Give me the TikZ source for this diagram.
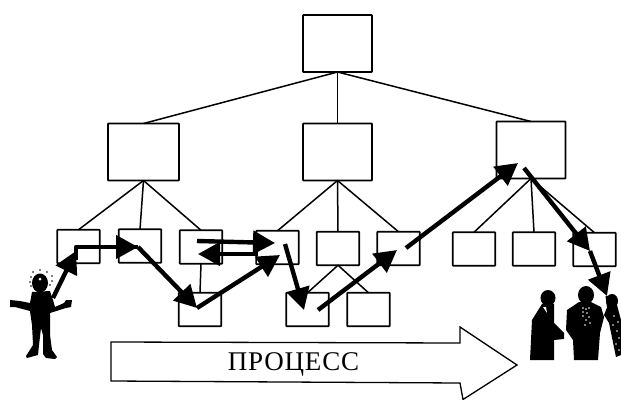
\documentclass[tikz,border=0pt]{standalone}
\usepackage{fontspec}
\setmainfont{Liberation Serif}
\usetikzlibrary{arrows.meta}
\tikzset{
  orgbox/.style={draw=black,line width=1.7pt,fill=white,inner sep=0pt,outer sep=0pt,rounded corners=0.6pt},
  bigbox/.style={orgbox,minimum width=69pt,minimum height=57pt},
  smallbox/.style={orgbox,minimum width=42.5pt,minimum height=33.5pt},
  link/.style={draw=black,line width=1.5pt},
  flow/.style={draw=black,line width=4.4pt,-{Triangle[length=22pt,width=23pt]}},
  flowplain/.style={draw=black,line width=4.4pt,line join=round},
  silh/.style={fill=black,draw=none},
  speck/.style={fill=white,draw=none}
}
\begin{document}
\begin{tikzpicture}[x=1pt,y=-1pt]
\useasboundingbox (0,0) rectangle (621,399);
% boxes
\node[bigbox] (top) at (337.5,43.5) {};
\node[bigbox,minimum width=71pt] (m1) at (143.5,152) {};
\node[bigbox] (m2) at (337.5,152) {};
\node[bigbox] (m3) at (531,150) {};
\node[smallbox] (l1) at (78.5,246.5) {};
\node[smallbox] (l2) at (140,246) {};
\node[smallbox] (l3) at (201,247) {};
\node[smallbox] (l4) at (277.5,247.5) {};
\node[smallbox] (l5) at (338,248.5) {};
\node[smallbox] (l6) at (398.5,248.5) {};
\node[smallbox] (l7) at (474,249) {};
\node[smallbox] (l8) at (534,249) {};
\node[smallbox] (l9) at (594.5,249.5) {};
\node[smallbox] (b1) at (200,309.5) {};
\node[smallbox] (b2) at (307.5,309.5) {};
\node[smallbox] (b3) at (368.5,309.5) {};
% tree links
\draw[link] (top.south) -- (m1.north);
\draw[link] (top.south) -- (m2.north);
\draw[link] (top.south) -- (m3.north);
\draw[link] (m1.south) -- (l1.north);
\draw[link] (m1.south) -- (l2.north);
\draw[link] (m1.south) -- (l3.north);
\draw[link] (m2.south) -- (l4.north);
\draw[link] (m2.south) -- (l5.north);
\draw[link] (m2.south) -- (l6.north);
\draw[link] (m3.south) -- (l7.north);
\draw[link] (m3.south) -- (l8.north);
\draw[link] (m3.south) -- (l9.north);
\draw[link] (l3.south) -- (b1.north);
\draw[link] (l5.south) -- (b2.north);
\draw[link] (l5.south) -- (b3.north);
% process arrow
\draw[line width=1.3pt,line join=miter,fill=white] (111,342) -- (460,343) -- (460,327) -- (517,365) -- (463,399.5) -- (460,383) -- (111,381) -- cycle;
\node[font=\fontsize{27}{27}\addfontfeature{LetterSpace=3}\selectfont,inner sep=0pt] (proc) at (293.5,364) {ПРОЦЕСС};
% left figure
\fill[silh] (40,283) ellipse (8pt and 9.5pt);
\fill[silh] (32,292) -- (50,291) -- (53,300) -- (55,307) -- (64,303) -- (66,300) -- (72,300) -- (71,307) -- (66,308) -- (50,313) -- (50,335) -- (52,350) -- (57,357) -- (55,359) -- (46,358) -- (43,354) -- (43,335) -- (41,328) -- (39,345) -- (38,355) -- (27,358) -- (26,356) -- (33,345) -- (32,325) -- (30,311) -- (15,307) -- (10,307) -- (10,300) -- (20,301) -- (30,303) -- cycle;
\fill[speck] (40,279) circle (1.5pt);
\foreach \dx/\dy in {33/272,40/270,47/272,31/277,52/276,30/282,52/281,31/286,50/285}{
  \fill[black] (\dx,\dy) circle (0.9pt);
}
% right group
\fill[silh] (548,298) ellipse (7.5pt and 8pt);
\fill[silh] (542,304) -- (554,304) -- (554,323) -- (564,333) -- (564,339) -- (554,340) -- (554,360) -- (530,360) -- (532,320) -- cycle;
\fill[speck] (543,307) -- (546,307) -- (547,313) -- cycle;
\fill[silh] (586,295) ellipse (8pt and 9pt);
\fill[silh] (579,302) -- (591,302) -- (601,307) -- (604,317) -- (600,333) -- (598,360) -- (574,360) -- (573,340) -- (566,330) -- (567,310) -- cycle;
\foreach \dx/\dy in {583/308,586/309,583/312,587/313,589/308,583/316,589/317,586/320,590/323,585/325}{
  \fill[speck] (\dx,\dy) circle (0.9pt);
}
\fill[silh] (612,301) ellipse (6pt and 7pt);
\fill[silh] (604,315) -- (608,305) -- (617,305) -- (621,320) -- (621,355) -- (616,357) -- (609,323) -- cycle;
\foreach \dx/\dy in {614/316,618/322,613/325,617/331,619/338,616/344,619/350}{
  \fill[speck] (\dx,\dy) circle (0.9pt);
}
% flow waypoints
\coordinate (s0) at (53,298);
\coordinate (a1) at (76,251);
\coordinate (c1) at (76,247);
\coordinate (a2) at (138,247);
\coordinate (a3) at (197,308);
\coordinate (a4) at (280,255);
\coordinate (s5) at (285,244);
\coordinate (a5) at (304,310);
\coordinate (d1) at (197,241);
\coordinate (d2) at (275,243);
\coordinate (d3) at (258,254);
\coordinate (d4) at (198,254);
\coordinate (s6) at (318,310);
\coordinate (a6) at (397,250);
\coordinate (s7) at (406,248);
\coordinate (a7) at (518,163);
\coordinate (s8) at (524,168);
\coordinate (a8) at (590,251);
\coordinate (a9) at (607,296);
\coordinate (e9) at (610,318);
% flow arrows
\draw[flow] (s0) -- (a1);
\draw[flowplain] (76,260) -- (c1) -- (a2);
\draw[flow] (c1) -- (a2);
\draw[flow] (a2) -- (a3);
\draw[flow] (a3) -- (a4);
\draw[flow] (d1) -- (d2);
\draw[flow] (d3) -- (d4);
\draw[flow] (s5) -- (a5);
\draw[flow] (s6) -- (a6);
\draw[flow] (s7) -- (a7);
\draw[flow] (s8) -- (a8);
\draw[flow] (a8) -- (a9);
\draw[line width=3pt] (a9) -- (e9);
\end{tikzpicture}
\end{document}
